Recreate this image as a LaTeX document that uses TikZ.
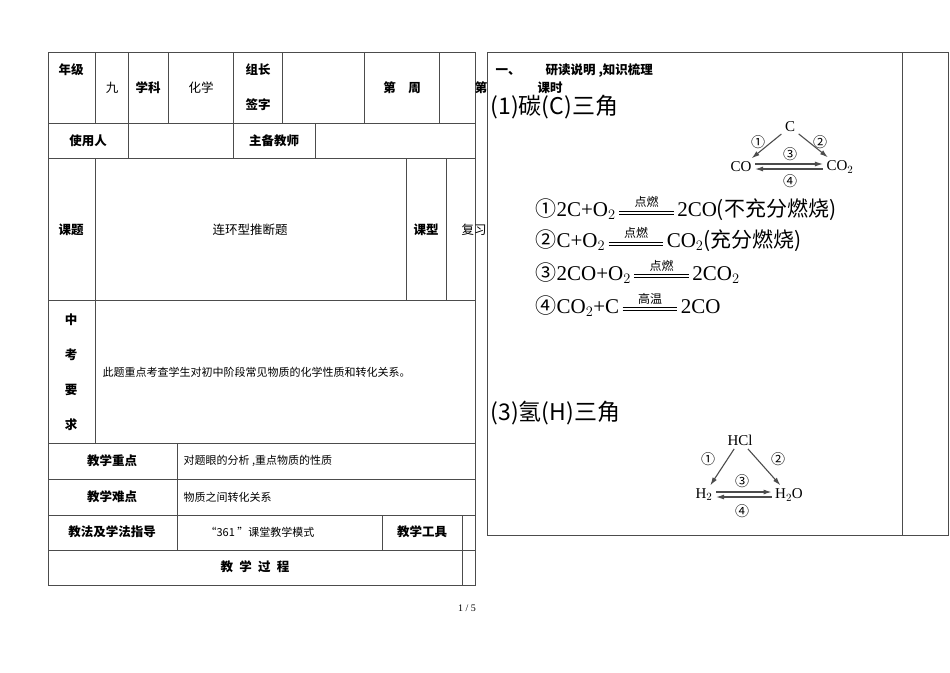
\documentclass[tikz,border=0pt]{standalone}
\usepackage{fontspec}
\usepackage{amsmath}
\usetikzlibrary{arrows.meta}
\setmainfont{Liberation Serif}
\newfontfamily\cjk{Noto Sans CJK SC}
\newcommand\dbar{\rule[0.25ex]{2.6em}{0.6pt}\hspace{-2.6em}\rule[0.55ex]{2.6em}{0.6pt}}
\newcommand\cnd[1]{\ensuremath{\mathrel{\overset{\smash{\text{\cjk\fontsize{12}{12}\selectfont #1}}}{\dbar}}}}
\tikzset{
  cell/.style={font=\cjk\fontsize{12.5}{14}\selectfont},
  head/.style={font=\cjk\bfseries\fontsize{12.5}{14}\selectfont},
  chem/.style={font=\fontsize{15}{16}\selectfont},
  lbl/.style={font=\cjk\fontsize{14}{14}\selectfont},
  eqn/.style={font=\fontsize{21}{22}\selectfont, anchor=west},
  ttl/.style={font=\cjk\fontsize{23}{24}\selectfont, anchor=west},
  rxn/.style={-{Latex[length=8pt,width=5pt]}, line width=1.1pt}
}
\begin{document}
\begin{tikzpicture}[x=1pt,y=-1pt,line width=0.6pt,draw=black!70]
\useasboundingbox (0,0) rectangle (950,672);
% left table
\draw (48,52) rectangle (475,585);
\foreach \y in {123,158,300,443,479,515,550} \draw (48,\y) -- (475,\y);
\foreach \x in {95,128,168,233,282,364,439} \draw (\x,52) -- (\x,123);
\foreach \x in {128,233,315} \draw (\x,123) -- (\x,158);
\foreach \x in {406,446} \draw (\x,158) -- (\x,300);
\draw (95,158) -- (95,443);
\draw (177,443) -- (177,550);
\draw (382,515) -- (382,550);
\draw (462,515) -- (462,585);
\node[head] (grade) at (71,70) {年级};
\node[cell] (nine) at (112,88) {九};
\node[head] (subj) at (148,88) {学科};
\node[cell] (chem) at (201,88) {化学};
\node[head] (lead1) at (258,70) {组长};
\node[head] (lead2) at (258,105) {签字};
\node[head] (week) at (402,88) {第\quad 周};
\node[head] (nth) at (481,88) {第};
\node[head] (user) at (88,141) {使用人};
\node[head] (teacher) at (274,141) {主备教师};
\node[head] (topic) at (71,230) {课题};
\node[cell] (topicv) at (250,230) {连环型推断题};
\node[head] (type) at (426,230) {课型};
\node[cell] (typev) at (474,230) {复习};
\foreach \c [count=\i] in {中,考,要,求}
  \node[head] (req\i) at (71,285+35*\i) {\c};
\node[cell,anchor=west,font=\cjk\fontsize{11}{12}\selectfont] (reqv) at (99,372) {此题重点考查学生对初中阶段常见物质的化学性质和转化关系。};
\node[head] (key) at (112,461) {教学重点};
\node[cell,anchor=west,font=\cjk\fontsize{11}{12}\selectfont] (keyv) at (180,461) {对题眼的分析 ,重点物质的性质};
\node[head] (hard) at (112,497) {教学难点};
\node[cell,anchor=west,font=\cjk\fontsize{11}{12}\selectfont] (hardv) at (180,497) {物质之间转化关系};
\node[head] (method) at (112,532) {教法及学法指导};
\node[cell,font=\cjk\fontsize{11}{12}\selectfont] (methodv) at (260,532) {“361 ”课堂教学模式};
\node[head] (tools) at (422,532) {教学工具};
\node[head] (proc) at (255,567) {教\enspace 学\enspace 过\enspace 程};
\node[font=\fontsize{10}{11}\selectfont] (page) at (467,608) {1 / 5};
% right panel
\draw (487,52) rectangle (948,535);
\draw (902,52) -- (902,535);
\node[head,anchor=west] (sec) at (492,71) {一、\qquad 研读说明 ,知识梳理};
\node[head,anchor=west] (hour) at (534,88) {课时};
\node[ttl] (ctitle) at (487,107) {(1)碳(C)三角};
\node[chem] (C) at (790,127) {C};
\node[chem] (CO) at (741,167) {CO};
\node[chem] (CO2) at (840,167) {CO$_2$};
\draw[rxn] (C) -- (CO);
\draw[rxn] (C) -- (CO2);
\draw[rxn] ([yshift=3pt]CO.east) -- ([yshift=3pt]CO2.west);
\draw[rxn] ([yshift=-2pt]CO2.west) -- ([yshift=-2pt]CO.east);
\node[lbl] (c1) at (758,142) {①};
\node[lbl] (c2) at (820,142) {②};
\node[lbl] (c3) at (790,154) {③};
\node[lbl] (c4) at (790,181) {④};
\node[eqn] (e1) at (532,210) {{\cjk ①}2C+O$_2$\,\cnd{点燃}\,2CO{\cjk (不充分燃烧)}};
\node[eqn] (e2) at (532,241) {{\cjk ②}C+O$_2$\,\cnd{点燃}\,CO$_2${\cjk (充分燃烧)}};
\node[eqn] (e3) at (532,273) {{\cjk ③}2CO+O$_2$\,\cnd{点燃}\,2CO$_2$};
\node[eqn] (e4) at (532,306) {{\cjk ④}CO$_2$+C\,\cnd{高温}\,2CO};
\node[ttl] (htitle) at (487,413) {(3)氢(H)三角};
\node[chem] (HCl) at (740,440) {HCl};
\node[chem] (H2) at (704,495) {H$_2$};
\node[chem] (H2O) at (789,495) {H$_2$O};
\draw[rxn] (HCl) -- (H2);
\draw[rxn] (HCl) -- (H2O);
\draw[rxn] ([yshift=3pt]H2.east) -- ([yshift=3pt]H2O.west);
\draw[rxn] ([yshift=-2pt]H2O.west) -- ([yshift=-2pt]H2.east);
\node[lbl] (h1) at (708,459) {①};
\node[lbl] (h2) at (778,459) {②};
\node[lbl] (h3) at (742,481) {③};
\node[lbl] (h4) at (742,511) {④};
\end{tikzpicture}
\end{document}
